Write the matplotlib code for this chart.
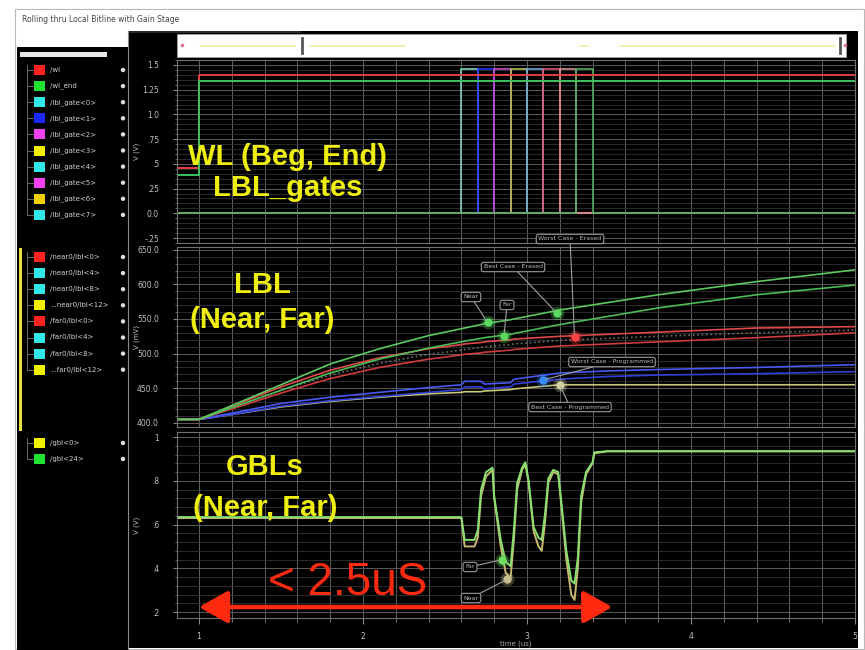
import matplotlib
matplotlib.use("Agg")
import matplotlib.pyplot as plt
from matplotlib.patches import Rectangle, Circle
from matplotlib.ticker import MultipleLocator

W, H = 865, 650

# ---------------- data ----------------
x_lim = (0.866, 5.0)
x_ticks = [1, 2, 3, 4, 5]
x_tick_labels = ["1", "2", "3", "4", "5"]

# panel 1: word lines and local bitline gates (V)
wl_t = [0.87, 1.0, 1.0, 5.0]
wl_v = [0.46, 0.46, 1.40, 1.40]
wl_end_v = [0.39, 0.39, 1.34, 1.34]
gate_on = [2.60, 2.70, 2.80, 2.90, 3.00, 3.10, 3.20, 3.30]
gate_off = [2.70, 2.80, 2.90, 3.00, 3.10, 3.20, 3.30, 3.40]
gate_high = 1.46
gate_low = 0.0
p1_ticks = [-0.25, 0.0, 0.25, 0.5, 0.75, 1.0, 1.25, 1.5]
p1_labels = ["-.25", "0.0", ".25", ".5", ".75", "1.0", "1.25", "1.5"]

# panel 2: local bitlines (mV)
lbl_t = [0.87, 1.0, 1.2, 1.5, 1.8, 2.1, 2.4, 2.6, 2.62, 2.72, 2.74, 2.9, 2.92,
         3.2, 3.5, 3.8, 4.4, 5.0]
lbl_near_erased = [405, 405, 425, 455, 485, 507, 526, 536, 537, 542, 543, 549, 550,
                   563, 574, 585, 604, 621]
lbl_far_erased = [405, 405, 422, 447, 472, 492, 508, 517, 518, 522, 523, 528, 529,
                  542, 554, 566, 585, 599]
lbl_mid = [405, 405, 422, 447, 469, 486, 499, 505, 506, 509, 510, 513, 514,
           519, 522, 525, 530, 534]
lbl_red_hi = [405, 405, 424, 452, 476, 494, 507, 513, 514, 516, 517, 520, 521,
              525, 528, 531, 537, 539]
lbl_red_lo = [405, 405, 420, 443, 464, 480, 492, 498, 499, 501, 502, 505, 506,
              511, 514, 517, 523, 530]
lbl_blue_hi = [405, 405, 414, 428, 437, 444, 451, 455, 460, 460, 456, 458, 463,
               472, 475, 477, 480, 484]
lbl_blue_lo = [405, 405, 412, 424, 432, 438, 444, 448, 452, 452, 449, 452, 456,
               463, 467, 469, 471, 474]
lbl_yellow = [405, 405, 412, 423, 431, 437, 442, 444, 445, 445, 446, 448, 449,
              455, 455, 455, 455, 455]
p2_ticks = [400, 450, 500, 550, 600, 650]
p2_labels = ["400.0", "450.0", "500.0", "550.0", "600.0", "650.0"]

lbl_mark_names = ["Near", "Far", "Best Case - Erased", "Worst Case - Erased",
                  "Worst Case - Programmed", "Best Case - Programmed"]
lbl_mark_t = [2.76, 2.86, 3.18, 3.29, 3.10, 3.20]
lbl_mark_v = [545, 526, 559, 524, 462, 455]

# panel 3: global bitlines (V)
gbl_t = [0.87, 2.60, 2.62, 2.68, 2.70, 2.72, 2.75, 2.79, 2.80, 2.84, 2.87, 2.90,
         2.92, 2.94, 2.97, 2.99, 3.01, 3.04, 3.07, 3.09, 3.11, 3.13, 3.16, 3.19,
         3.21, 3.24, 3.27, 3.29, 3.31, 3.33, 3.36, 3.40, 3.41, 3.49, 5.0]
gbl24 = [0.634, 0.634, 0.53, 0.53, 0.575, 0.76, 0.84, 0.86, 0.73, 0.53, 0.43, 0.41,
         0.575, 0.79, 0.86, 0.885, 0.80, 0.59, 0.54, 0.53, 0.65, 0.81, 0.85, 0.84,
         0.70, 0.48, 0.345, 0.33, 0.45, 0.73, 0.84, 0.885, 0.93, 0.935, 0.935]
gbl0 = [0.63, 0.63, 0.50, 0.50, 0.54, 0.73, 0.82, 0.85, 0.72, 0.50, 0.38, 0.355,
        0.53, 0.76, 0.85, 0.875, 0.79, 0.57, 0.50, 0.48, 0.61, 0.79, 0.84, 0.83,
        0.68, 0.44, 0.28, 0.255, 0.40, 0.70, 0.83, 0.88, 0.925, 0.935, 0.935]
p3_ticks = [0.2, 0.4, 0.6, 0.8, 1.0]
p3_labels = [".2", ".4", ".6", ".8", "1"]
gbl_mark_names = ["Far", "Near"]
gbl_mark_t = [2.85, 2.88]
gbl_mark_v = [0.44, 0.35]

arrow_t = [1.0, 3.52]
arrow_v = 0.223

# signal browser lists
wl_names = ["/wl", "/wl_end"] + ["/lbl_gate<%d>" % i for i in range(8)]
wl_swatch = ["#ff2020", "#20e030", "#30e8e8", "#1828ff", "#f040f0", "#f0f000",
             "#30e8e8", "#f040f0", "#f0d000", "#30e8e8"]
lbl_names = ["/near0/lbl<0>", "/near0/lbl<4>", "/near0/lbl<8>", "...near0/lbl<12>",
             "/far0/lbl<0>", "/far0/lbl<4>", "/far0/lbl<8>", "...far0/lbl<12>"]
lbl_swatch = ["#ff2020", "#30e8e8", "#30e8e8", "#f0f000",
              "#ff2020", "#30e8e8", "#30e8e8", "#f0f000"]
gbl_names = ["/gbl<0>", "/gbl<24>"]
gbl_swatch = ["#f0f000", "#20e030"]

gate_colors = ["#7fd6c8", "#2233ff", "#d050d0", "#b8c050",
               "#70a8e0", "#e05a78", "#d89090", "#4fb060"]


def rect(x0, y0, x1, y1):
    return [x0 / W, 1 - y1 / H, (x1 - x0) / W, (y1 - y0) / H]


fig = plt.figure(figsize=(W / 100, H / 100), dpi=100, facecolor="white")

# window chrome, drawn in pixel coordinates
bg = fig.add_axes([0, 0, 1, 1], zorder=-1)
bg.set_xlim(0, W)
bg.set_ylim(H, 0)
bg.axis("off")
bg.add_patch(Rectangle((15, 9), 849, 640, fill=False, ec="#b8b8b8", lw=0.8))
bg.text(22, 20, "Rolling thru Local Bitline with Gain Stage", fontsize=5.5,
        color="#444444", va="center")
bg.add_patch(Rectangle((17, 47), 111, 603, fc="black", ec="none"))
bg.add_patch(Rectangle((20, 52), 87, 5, fc="#e6e6e6", ec="none"))
bg.add_patch(Rectangle((128, 31), 730, 617, fc="black", ec="none"))
bg.plot([128, 128], [31, 650], color="#8a8a8a", lw=0.8)
bg.plot([130, 300], [32, 32], color="#333333", lw=1.2)
bg.add_patch(Rectangle((177, 34), 669, 23, fc="white", ec="#a0a0a0", lw=0.6))
for x0, x1 in [(200, 295), (310, 405), (580, 588), (620, 835)]:
    bg.plot([x0, x1], [46, 46], color="#f0f0a0", lw=1.2)
for xh in [302, 840]:
    bg.plot([xh, xh], [38, 53], color="#555555", lw=2)
for xp in [182, 845]:
    bg.plot([xp], [45], "s", ms=2, color="#e070a0")


def draw_group(names, colors, y0, step):
    ys = [y0 + i * step for i in range(len(names))]
    bg.plot([27, 27], [ys[0] - 5, ys[-1]], color="#777777", lw=0.6)
    for y, name, c in zip(ys, names, colors):
        bg.plot([27, 33], [y, y], color="#777777", lw=0.6)
        bg.add_patch(Rectangle((34, y - 5), 11, 10, fc=c, ec="none"))
        bg.text(50, y, name, fontsize=5, color="#d0d0d0", va="center")
        bg.add_patch(Circle((123, y), 2.2, fc="#dddddd", ec="none"))


draw_group(wl_names, wl_swatch, 70, 16.1)
draw_group(lbl_names, lbl_swatch, 257, 16.1)
draw_group(gbl_names, gbl_swatch, 443, 16.0)
bg.add_patch(Rectangle((19, 248), 3, 183, fc="#e8e040", ec="none"))

ylabels = [("V (V)", 151), ("V (mV)", 337), ("V (V)", 525)]
for txt, yc in ylabels:
    bg.text(137, yc, txt, fontsize=5, color="#bbbbbb", rotation=90,
            ha="center", va="center")


def setup_panel(ax, ylim, ticks, labels, minor):
    ax.set_facecolor("black")
    ax.set_xlim(*x_lim)
    ax.set_ylim(*ylim)
    ax.set_yticks(ticks)
    ax.set_yticklabels(labels)
    ax.yaxis.set_minor_locator(MultipleLocator(minor))
    ax.set_xticks(x_ticks)
    ax.xaxis.set_minor_locator(MultipleLocator(0.2))
    ax.xaxis.grid(True, which="both", color="#5e5e5e", lw=0.7)
    ax.yaxis.grid(True, which="major", color="#5a5a5a", lw=0.7)
    ax.yaxis.grid(True, which="minor", color="#333333", lw=0.6)
    ax.set_axisbelow(True)
    ax.tick_params(axis="y", which="major", direction="out", length=3, color="#888888",
                   labelsize=5.5, labelcolor="#c0c0c0", pad=10)
    ax.tick_params(axis="y", which="minor", direction="out", length=1.5, color="#777777")
    ax.tick_params(axis="x", which="both", bottom=False, labelbottom=False)
    for sp in ax.spines.values():
        sp.set_color("#707070")
        sp.set_linewidth(0.8)


ax1 = fig.add_axes(rect(177, 60, 855, 243), zorder=1)
ax2 = fig.add_axes(rect(177, 247, 855, 427), zorder=1)
ax3 = fig.add_axes(rect(177, 432, 855, 618), zorder=1)
setup_panel(ax1, (-0.30, 1.55), p1_ticks, p1_labels, 0.05)
setup_panel(ax2, (394, 654), p2_ticks, p2_labels, 10)
setup_panel(ax3, (0.173, 1.023), p3_ticks, p3_labels, 0.04)

# panel 1
for on, off, c in zip(gate_on, gate_off, gate_colors):
    ax1.plot([x_lim[0], on, on, off, off, x_lim[1]],
             [gate_low, gate_low, gate_high, gate_high, gate_low, gate_low],
             color=c, lw=1.3, alpha=0.9)
ax1.plot(wl_t, wl_v, color="#e04040", lw=1.4)
ax1.plot(wl_t, wl_end_v, color="#40c060", lw=1.4)

# panel 2
lbl_series = [(lbl_yellow, "#c8c878", "-"), (lbl_blue_lo, "#3040d8", "-"),
              (lbl_blue_hi, "#4858f0", "-"), (lbl_red_lo, "#d03c3c", "-"),
              (lbl_mid, "#6e6e68", ":"), (lbl_red_hi, "#e04848", "-"),
              (lbl_far_erased, "#4cbc58", "-"), (lbl_near_erased, "#5cc860", "-")]
for vals, c, ls in lbl_series:
    ax2.plot(lbl_t, vals, color=c, lw=1.2, ls=ls)

lbl_mark_colors = ["#5cd860", "#5cd860", "#5cd860", "#ff4040", "#3a8cff", "#d0d0a0"]
lbl_box_px = [(471, 297), (507, 305), (513, 267), (570, 239), (612, 362), (570, 407)]
for name, t, v, c, (bx, by) in zip(lbl_mark_names, lbl_mark_t, lbl_mark_v,
                                   lbl_mark_colors, lbl_box_px):
    ax2.annotate(name, xy=(t, v), xytext=(bx, H - by), textcoords="figure pixels",
                 fontsize=4.5, color="#bbbbbb", ha="center", va="center",
                 bbox=dict(boxstyle="round,pad=0.35", fc="black", ec="#9a9a9a", lw=0.8),
                 arrowprops=dict(arrowstyle="-", color="#a0a0a0", lw=0.8,
                                 shrinkA=0, shrinkB=2))
    ax2.plot([t], [v], "o", ms=10, color=c, alpha=0.3, mec="none")
    ax2.plot([t], [v], "o", ms=6, color=c, mec="none")

# panel 3
ax3.plot(gbl_t, gbl0, color="#c8b870", lw=1.4)
ax3.plot(gbl_t, gbl24, color="#86e070", lw=1.4)
gbl_mark_colors = ["#70e060", "#c8c090"]
gbl_box_px = [(470, 567), (471, 598)]
for name, t, v, c, (bx, by) in zip(gbl_mark_names, gbl_mark_t, gbl_mark_v,
                                   gbl_mark_colors, gbl_box_px):
    ax3.annotate(name, xy=(t, v), xytext=(bx, H - by), textcoords="figure pixels",
                 fontsize=4.5, color="#bbbbbb", ha="center", va="center",
                 bbox=dict(boxstyle="round,pad=0.35", fc="black", ec="#9a9a9a", lw=0.8),
                 arrowprops=dict(arrowstyle="-", color="#a0a0a0", lw=0.8,
                                 shrinkA=0, shrinkB=2))
    ax3.plot([t], [v], "o", ms=10, color=c, alpha=0.3, mec="none")
    ax3.plot([t], [v], "o", ms=6, color=c, mec="none")

ax3.annotate("", xy=(arrow_t[1], arrow_v), xytext=(arrow_t[0], arrow_v),
             arrowprops=dict(arrowstyle="<|-|>,head_length=0.8,head_width=0.45",
                             mutation_scale=22, lw=3.2, color="#ff2a10",
                             shrinkA=0, shrinkB=0))

ax3.set_xticklabels(x_tick_labels)
ax3.tick_params(axis="x", which="both", bottom=True, labelbottom=True,
                direction="out", color="#888888", labelsize=5.5, labelcolor="#c0c0c0")
ax3.tick_params(axis="x", which="major", length=4, pad=6)
ax3.tick_params(axis="x", which="minor", length=3)
ax3.set_xlabel("time (us)", fontsize=5, color="#aaaaaa", labelpad=0)

# overlay callouts
big = dict(fontsize=21, fontweight="bold", color="#eeee10", ha="center", va="center",
           family=["Liberation Sans", "DejaVu Sans"])
fig.text(288 / W, 1 - 157 / H, "WL (Beg, End)", **big)
fig.text(288 / W, 1 - 188 / H, "LBL_gates", **big)
fig.text(262 / W, 1 - 285 / H, "LBL", **big)
fig.text(262 / W, 1 - 320 / H, "(Near, Far)", **big)
fig.text(265 / W, 1 - 467 / H, "GBLs", **big)
fig.text(265 / W, 1 - 508 / H, "(Near, Far)", **big)
fig.text(268 / W, 1 - 583 / H, "< 2.5uS", fontsize=33, color="#ff2a10",
         ha="left", va="center", family=["Liberation Sans", "DejaVu Sans"])

fig.savefig("out.png", dpi=100, facecolor="white")
